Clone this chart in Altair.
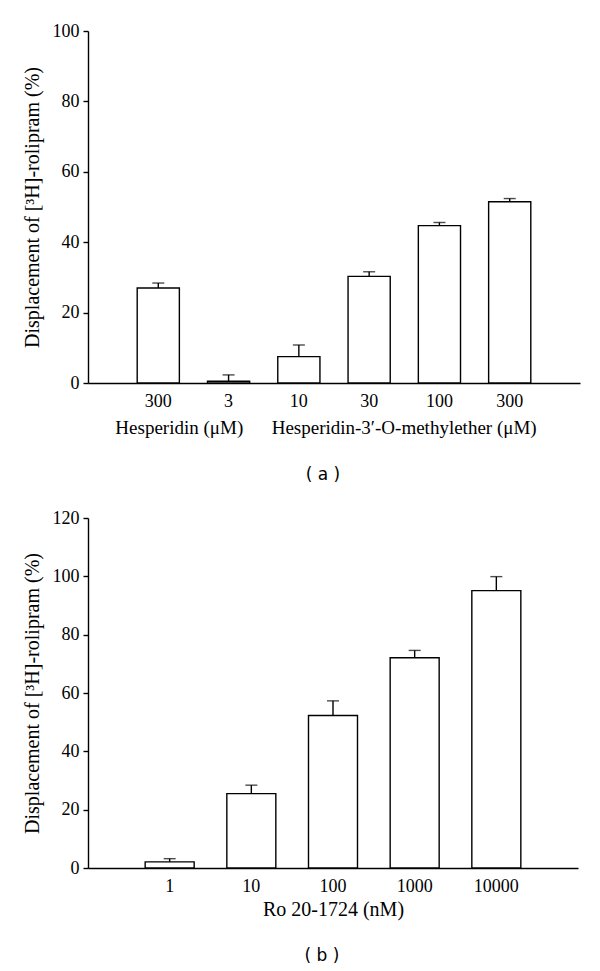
import altair as alt
import pandas as pd

# ---------------- data ----------------
# Panel (a)
a_keys = ["Hesperidin_300", "HME_3", "HME_10", "HME_30", "HME_100", "HME_300"]
a_labels = ["300", "3", "10", "30", "100", "300"]
a_values = [27.0, 0.5, 7.5, 30.3, 44.7, 51.5]
a_errors = [1.4, 1.8, 3.3, 1.3, 0.9, 0.9]

# Panel (b)
b_keys = ["1", "10", "100", "1000", "10000"]
b_values = [2.1, 25.5, 52.3, 72.1, 95.1]
b_errors = [1.1, 2.9, 5.0, 2.5, 4.8]

y_title = "Displacement of [\u00b3H]-rolipram (%)"
SERIF = "Liberation Serif"
SANS = "DejaVu Sans"

df_a = pd.DataFrame({"key": a_keys, "label": a_labels, "value": a_values, "err": a_errors})
df_a["top"] = df_a["value"] + df_a["err"]
df_b = pd.DataFrame({"key": b_keys, "value": b_values, "err": b_errors})
df_b["top"] = df_b["value"] + df_b["err"]


def panel(df, keys, ymax, xtitle, label_expr):
    x = alt.X(
        "key:N",
        sort=keys,
        scale=alt.Scale(paddingInner=0.4, paddingOuter=0.7),
        axis=alt.Axis(
            title=xtitle,
            labelAngle=0,
            ticks=False,
            labelPadding=9,
            labelExpr=label_expr,
            titlePadding=4,
        ),
    )
    y = alt.Y(
        "value:Q",
        scale=alt.Scale(domain=[0, ymax], nice=False),
        axis=alt.Axis(
            title=y_title,
            values=list(range(0, ymax + 1, 20)),
            tickSize=5,
            labelPadding=4,
            titlePadding=10,
            grid=False,
        ),
    )
    base = alt.Chart(df)
    bars = base.mark_bar(fill="white", stroke="black", strokeWidth=1.4).encode(x=x, y=y)
    err = base.mark_rule(color="black", strokeWidth=1.4).encode(
        x=alt.X("key:N", sort=keys), y="value:Q", y2="top:Q"
    )
    cap = base.mark_tick(color="black", thickness=1.4, size=12).encode(
        x=alt.X("key:N", sort=keys), y="top:Q"
    )
    return bars + err + cap


ch_a = panel(df_a, a_keys, 100, None, "split(datum.label, '_')[1]")

group_a = pd.DataFrame({
    "key": ["Hesperidin_300", "HME_30"],
    "text": ["Hesperidin (\u03bcM)", "Hesperidin-3\u2032-O-methylether (\u03bcM)"],
})
grp1 = alt.Chart(group_a.iloc[[0]]).mark_text(
    font=SERIF, fontSize=19, baseline="middle", align="center", dx=21, color="black"
).encode(x=alt.X("key:N", sort=a_keys), y=alt.value(352 + 45), text="text:N")
grp2 = alt.Chart(group_a.iloc[[1]]).mark_text(
    font=SERIF, fontSize=19, baseline="middle", align="center", dx=35, color="black"
).encode(x=alt.X("key:N", sort=a_keys), y=alt.value(352 + 45), text="text:N")

chart_a = (ch_a + grp1 + grp2).properties(
    width=492,
    height=352,
    title=alt.TitleParams("( a )", orient="bottom", font=SANS, fontSize=17,
                          fontWeight="normal", frame="group", dx=-11, offset=29),
)

ch_b = panel(df_b, b_keys, 120, "Ro 20-1724 (nM)", "datum.label")
chart_b = ch_b.properties(
    width=490,
    height=350,
    title=alt.TitleParams("( b )", orient="bottom", font=SANS, fontSize=17,
                          fontWeight="normal", frame="group", dx=-11, offset=29),
)

chart = alt.vconcat(chart_a, chart_b, spacing=26).properties(
    padding={"top": 14, "left": 14, "right": 5, "bottom": 5}
).configure_view(stroke=None).configure_axis(
    domainColor="black",
    domainWidth=1.4,
    tickColor="black",
    tickWidth=1.4,
    labelColor="black",
    titleColor="black",
    labelFont=SERIF,
    titleFont=SERIF,
    labelFontSize=18,
    titleFontSize=20,
    titleFontWeight="normal",
).configure_title(color="black")

chart.save("out.html", embed_options={"renderer": "svg", "actions": False})
